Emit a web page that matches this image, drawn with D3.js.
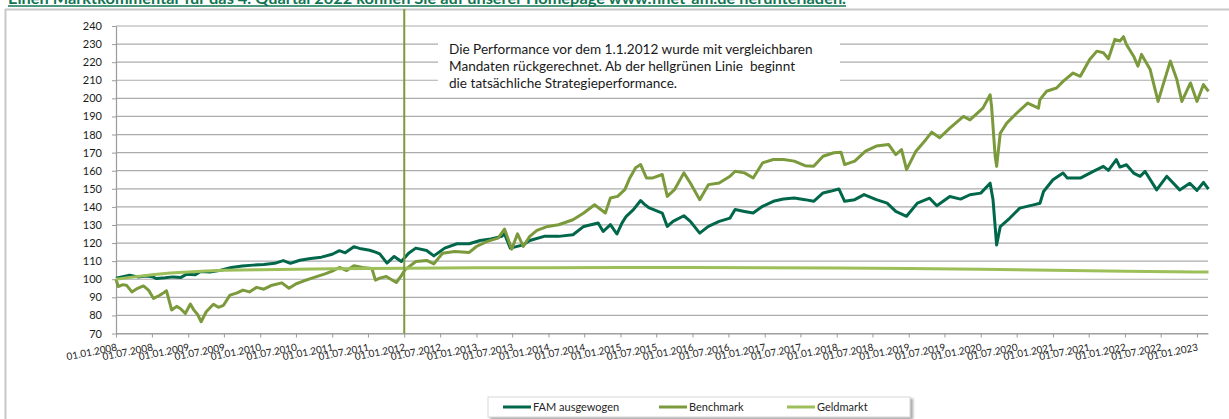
<!DOCTYPE html>
<html lang="de">
<head>
  <meta charset="UTF-8">
  <title>FAM ausgewogen - Wertentwicklung</title>
  <script src="https://d3js.org/d3.v7.min.js"></script>
  <style>
    body {
      margin: 0;
      padding: 0;
      background: #fff;
      font-family: Lato, 'Open Sans', sans-serif;
    }
    svg { display: block; }
  </style>
</head>
<body>
  <svg id="chart"></svg>

  <script>
    // Values (time as decimal year)
    const famYears = [2008.00, 2008.08, 2008.19, 2008.30, 2008.42, 2008.50, 2008.56, 2008.68, 2008.79, 2008.90,
      2008.98, 2009.10, 2009.17, 2009.30, 2009.45, 2009.60, 2009.75, 2009.90, 2010.05, 2010.20,
      2010.32, 2010.42, 2010.55, 2010.70, 2010.85, 2011.00, 2011.10, 2011.18, 2011.30, 2011.40,
      2011.52, 2011.60, 2011.66, 2011.76, 2011.86, 2011.96, 2012.06, 2012.16, 2012.31, 2012.41,
      2012.56, 2012.73, 2012.90, 2013.05, 2013.20, 2013.35, 2013.39, 2013.47, 2013.65, 2013.74,
      2013.94, 2014.14, 2014.34, 2014.49, 2014.69, 2014.76, 2014.86, 2014.95, 2015.02, 2015.08,
      2015.18, 2015.28, 2015.33, 2015.40, 2015.58, 2015.65, 2015.73, 2015.88, 2015.97, 2016.10,
      2016.22, 2016.37, 2016.52, 2016.59, 2016.72, 2016.84, 2016.97, 2017.12, 2017.26, 2017.41,
      2017.56, 2017.68, 2017.81, 2017.91, 2018.03, 2018.11, 2018.25, 2018.38, 2018.55, 2018.70,
      2018.82, 2018.97, 2019.12, 2019.29, 2019.39, 2019.57, 2019.72, 2019.85, 2020.00, 2020.13,
      2020.17, 2020.22, 2020.27, 2020.40, 2020.54, 2020.73, 2020.82, 2020.87, 2021.00, 2021.14,
      2021.20, 2021.38, 2021.56, 2021.70, 2021.77, 2021.88, 2021.93, 2022.02, 2022.12, 2022.21,
      2022.28, 2022.44, 2022.58, 2022.76, 2022.90, 2023.00, 2023.09, 2023.16];
    const famValues = [100.5, 101.2, 102.2, 101.3, 101.8, 101.4, 100.4, 100.8, 101.3, 101.0,
      102.8, 102.5, 104.3, 104.0, 105.0, 106.5, 107.3, 107.8, 108.2, 108.8,
      110.3, 108.8, 110.5, 111.5, 112.2, 113.8, 115.8, 114.6, 118.0, 116.8,
      116.0, 115.0, 114.0, 108.9, 112.6, 109.8, 114.4, 117.2, 115.9, 112.9,
      117.2, 119.6, 119.6, 121.4, 122.2, 123.7, 125.1, 117.2, 119.0, 121.4,
      123.7, 123.7, 124.6, 129.2, 131.1, 126.4, 130.2, 125.0, 131.0, 134.8,
      138.5, 143.5, 141.5, 139.4, 136.6, 129.2, 132.0, 135.1, 132.0, 125.5,
      129.2, 132.0, 133.8, 138.5, 137.5, 136.6, 140.3, 143.1, 144.4, 144.9,
      144.0, 143.1, 147.7, 148.6, 149.9, 143.1, 144.0, 146.8, 144.0, 142.1,
      137.5, 134.8, 142.1, 144.8, 140.6, 145.7, 144.3, 146.7, 147.6, 153.1,
      143.9, 118.9, 129.1, 133.7, 139.3, 141.1, 142.0, 148.5, 155.0, 158.7,
      155.9, 155.9, 159.6, 162.4, 160.2, 166.1, 162.0, 163.3, 158.7, 156.9,
      159.6, 149.4, 156.9, 149.4, 153.1, 149.1, 153.5, 149.8];

    const benchYears = [2008.00, 2008.03, 2008.10, 2008.15, 2008.22, 2008.30, 2008.38, 2008.45, 2008.52, 2008.60,
      2008.66, 2008.70, 2008.77, 2008.84, 2008.89, 2008.96, 2009.03, 2009.08, 2009.13, 2009.18,
      2009.25, 2009.35, 2009.42, 2009.49, 2009.58, 2009.68, 2009.76, 2009.85, 2009.95, 2010.05,
      2010.15, 2010.30, 2010.40, 2010.50, 2010.60, 2010.75, 2010.90, 2011.00, 2011.10, 2011.20,
      2011.30, 2011.42, 2011.55, 2011.60, 2011.66, 2011.75, 2011.89, 2011.96, 2012.01, 2012.16,
      2012.31, 2012.41, 2012.53, 2012.70, 2012.90, 2013.00, 2013.15, 2013.30, 2013.39, 2013.49,
      2013.57, 2013.65, 2013.74, 2013.84, 2013.99, 2014.14, 2014.34, 2014.49, 2014.64, 2014.79,
      2014.86, 2014.96, 2015.06, 2015.13, 2015.21, 2015.28, 2015.36, 2015.45, 2015.58, 2015.65,
      2015.75, 2015.88, 2015.97, 2016.10, 2016.22, 2016.37, 2016.52, 2016.59, 2016.72, 2016.84,
      2016.97, 2017.12, 2017.26, 2017.41, 2017.56, 2017.68, 2017.81, 2017.96, 2018.06, 2018.11,
      2018.25, 2018.40, 2018.55, 2018.72, 2018.82, 2018.90, 2018.97, 2019.10, 2019.24, 2019.32,
      2019.43, 2019.57, 2019.76, 2019.85, 2020.03, 2020.13, 2020.15, 2020.20, 2020.22, 2020.27,
      2020.36, 2020.50, 2020.65, 2020.80, 2020.82, 2020.91, 2021.05, 2021.14, 2021.28, 2021.38,
      2021.51, 2021.61, 2021.70, 2021.77, 2021.86, 2021.93, 2021.98, 2022.02, 2022.12, 2022.18,
      2022.23, 2022.35, 2022.39, 2022.46, 2022.53, 2022.63, 2022.72, 2022.79, 2022.91, 2023.00,
      2023.09, 2023.16];
    const benchValues = [100.0, 96.0, 97.0, 96.5, 93.0, 95.0, 96.3, 94.0, 89.4, 91.0,
      92.5, 93.6, 83.0, 85.0, 83.8, 81.1, 86.3, 82.9, 80.5, 76.5,
      82.0, 86.2, 84.5, 85.6, 91.2, 92.5, 94.0, 93.0, 95.5, 94.5,
      96.5, 98.0, 95.0, 97.5, 99.0, 101.0, 103.0, 104.5, 106.5, 104.8,
      107.5, 106.5, 106.0, 99.5, 100.6, 101.5, 98.2, 102.0, 105.2, 109.8,
      110.4, 108.5, 114.4, 115.3, 114.8, 118.1, 120.9, 122.7, 127.7, 116.6,
      125.1, 118.1, 123.7, 127.0, 129.2, 130.1, 132.9, 136.6, 141.2, 136.6,
      144.9, 145.8, 149.5, 156.0, 161.6, 163.4, 156.0, 156.0, 157.9, 145.8,
      149.5, 158.8, 153.2, 144.0, 152.3, 153.2, 156.9, 159.7, 158.8, 156.0,
      164.3, 166.2, 166.2, 165.3, 162.8, 162.5, 168.0, 169.9, 170.2, 163.4,
      165.3, 170.8, 173.6, 174.5, 168.9, 171.7, 160.6, 170.8, 177.3, 181.3,
      178.2, 183.5, 190.0, 188.1, 194.6, 202.0, 195.6, 167.8, 162.4, 180.7,
      186.3, 191.9, 197.4, 194.6, 199.3, 203.9, 205.7, 209.4, 214.0, 212.2,
      221.5, 226.1, 225.2, 221.9, 232.6, 231.7, 234.1, 229.8, 223.3, 217.8,
      224.3, 215.9, 209.4, 198.3, 207.6, 220.6, 210.4, 198.3, 208.5, 198.3,
      207.6, 203.9];

    const geldYears = [2008.00, 2008.25, 2008.50, 2008.75, 2009.00, 2009.25, 2009.50, 2010.00, 2011.00, 2012.00,
      2013.00, 2014.00, 2015.00, 2016.00, 2017.00, 2018.00, 2019.00, 2020.00, 2021.00, 2022.00,
      2023.00, 2023.16];
    const geldValues = [100.0, 101.3, 102.5, 103.4, 104.0, 104.6, 104.9, 105.3, 105.8, 106.1,
      106.3, 106.4, 106.5, 106.5, 106.4, 106.2, 105.9, 105.5, 105.0, 104.4,
      104.0, 104.0];

    const seriesNames = ["FAM ausgewogen", "Benchmark", "Geldmarkt"];
    const seriesColors = ["#00674b", "#7b9a3b", "#9dbf5a"];

    const yTickValues = [70, 80, 90, 100, 110, 120, 130, 140, 150, 160, 170, 180, 190, 200, 210, 220, 230, 240];
    const xTickLabels = ["01.01.2008", "01.07.2008", "01.01.2009", "01.07.2009", "01.01.2010", "01.07.2010",
      "01.01.2011", "01.07.2011", "01.01.2012", "01.07.2012", "01.01.2013", "01.07.2013",
      "01.01.2014", "01.07.2014", "01.01.2015", "01.07.2015", "01.01.2016", "01.07.2016",
      "01.01.2017", "01.07.2017", "01.01.2018", "01.07.2018", "01.01.2019", "01.07.2019",
      "01.01.2020", "01.07.2020", "01.01.2021", "01.07.2021", "01.01.2022", "01.07.2022",
      "01.01.2023"];
    const startLabel = "01.01.2012";
    const headline = "Einen Marktkommentar für das 4. Quartal 2022 können Sie auf unserer Homepage www.finet-am.de herunterladen.";
    const noteLines = [
      "Die Performance vor dem 1.1.2012 wurde mit vergleichbaren",
      "Mandaten rückgerechnet. Ab der hellgrünen Linie  beginnt",
      "die tatsächliche Strategieperformance."
    ];

    // decimal year -> Date
    function yearToDate(y) {
      const Y = Math.floor(y);
      const a = new Date(Y, 0, 1), b = new Date(Y + 1, 0, 1);
      return new Date(+a + (y - Y) * (b - a));
    }

    const width = 1229, height = 419;
    const parseDay = d3.timeParse("%d.%m.%Y");
    const fmtDay = d3.timeFormat("%d.%m.%Y");

    const svg = d3.select("#chart").attr("width", width).attr("height", height);

    const x = d3.scaleTime()
      .domain([new Date(2008, 0, 1), yearToDate(2023.153)])
      .range([116, 1208]);
    const y = d3.scaleLinear().domain([70, 240]).range([333.5, 26]);

    // outer frame of the sheet
    svg.append("line").attr("x1", 5).attr("x2", width).attr("y1", 9.5).attr("y2", 9.5)
      .attr("stroke", "#c8c8c8").attr("stroke-width", 2);
    svg.append("line").attr("x1", 5.5).attr("x2", 5.5).attr("y1", 9).attr("y2", height)
      .attr("stroke", "#c8c8c8").attr("stroke-width", 2);

    // headline (partly cut off at the top, as in the original)
    svg.append("text")
      .attr("x", 8).attr("y", 4)
      .attr("font-size", 16).attr("font-weight", "bold")
      .attr("fill", "#127552")
      .attr("textLength", 838).attr("lengthAdjust", "spacingAndGlyphs")
      .text(headline);
    svg.append("line").attr("x1", 8).attr("x2", 846).attr("y1", 6).attr("y2", 6)
      .attr("stroke", "#127552").attr("stroke-width", 1.5);

    // gridlines
    svg.append("g").selectAll("line").data(yTickValues).join("line")
      .attr("x1", 116).attr("x2", 1208)
      .attr("y1", d => y(d)).attr("y2", d => y(d))
      .attr("stroke", "#ababab").attr("stroke-width", 1.2);

    // note box covering the gridlines
    const note = svg.append("g");
    note.append("rect").attr("x", 438).attr("y", 34).attr("width", 402).attr("height", 56).attr("fill", "#fff");
    note.selectAll("text").data(noteLines).join("text")
      .attr("x", 449).attr("y", (d, i) => 54 + i * 17)
      .attr("font-size", 13.6).attr("fill", "#1a1a1a")
      .style("white-space", "pre")
      .text(d => d);

    // y axis
    const yAxis = svg.append("g").attr("transform", "translate(116,0)")
      .call(d3.axisLeft(y).tickValues(yTickValues).tickSize(4).tickSizeOuter(0).tickPadding(10));
    yAxis.select(".domain").attr("stroke", "#9a9a9a").attr("stroke-width", 1.2);
    yAxis.selectAll(".tick line").attr("stroke", "#9a9a9a");
    yAxis.selectAll("text").attr("font-size", 11).attr("font-family", "Lato, sans-serif").attr("fill", "#1a1a1a");

    // x axis
    const xTickDates = xTickLabels.map(parseDay);
    const xAxis = svg.append("g").attr("transform", `translate(0,${y(70)})`)
      .call(d3.axisBottom(x).tickValues(xTickDates).tickFormat(fmtDay).tickSize(4).tickSizeOuter(0));
    xAxis.select(".domain").attr("stroke", "#9a9a9a").attr("stroke-width", 1.2);
    xAxis.selectAll(".tick line").attr("stroke", "#9a9a9a");
    xAxis.selectAll("text")
      .attr("font-size", 10).attr("font-family", "Lato, sans-serif").attr("fill", "#1a1a1a")
      .attr("text-anchor", "end")
      .attr("x", 0).attr("y", 0).attr("dy", 0)
      .attr("transform", "translate(1,17) rotate(-11)");

    // series
    const series = [
      { years: famYears, values: famValues },
      { years: benchYears, values: benchValues },
      { years: geldYears, values: geldValues }
    ];
    const line = d3.line().x(d => x(d[0])).y(d => y(d[1]));
    series.forEach((s, i) => {
      const pts = s.years.map((yr, k) => [yearToDate(yr), s.values[k]]);
      svg.append("path")
        .datum(pts)
        .attr("fill", "none")
        .attr("stroke", seriesColors[i])
        .attr("stroke-width", 3)
        .attr("stroke-linejoin", "round")
        .attr("d", line);
    });

    // start of the real strategy performance
    const xs = x(parseDay(startLabel));
    svg.append("line").attr("x1", xs).attr("x2", xs).attr("y1", 9).attr("y2", y(70))
      .attr("stroke", "#7b9a3b").attr("stroke-width", 2);

    // legend
    const defs = svg.append("defs");
    const f = defs.append("filter").attr("id", "shadow").attr("x", "-5%").attr("y", "-30%").attr("width", "110%").attr("height", "160%");
    f.append("feDropShadow").attr("dx", 2.5).attr("dy", 2).attr("stdDeviation", 1.2).attr("flood-color", "#808080").attr("flood-opacity", 0.7);

    const legend = svg.append("g");
    legend.append("rect").attr("x", 488).attr("y", 397).attr("width", 422).attr("height", 20)
      .attr("fill", "#fff").attr("stroke", "#d9d9d9").attr("filter", "url(#shadow)");
    const legendX = [503, 659, 787];
    seriesNames.forEach((name, i) => {
      legend.append("line").attr("x1", legendX[i]).attr("x2", legendX[i] + 28)
        .attr("y1", 407).attr("y2", 407)
        .attr("stroke", seriesColors[i]).attr("stroke-width", 3);
      legend.append("text").attr("x", legendX[i] + 30).attr("y", 411)
        .attr("font-size", 11).attr("fill", "#262626").text(name);
    });
  </script>
</body>
</html>
